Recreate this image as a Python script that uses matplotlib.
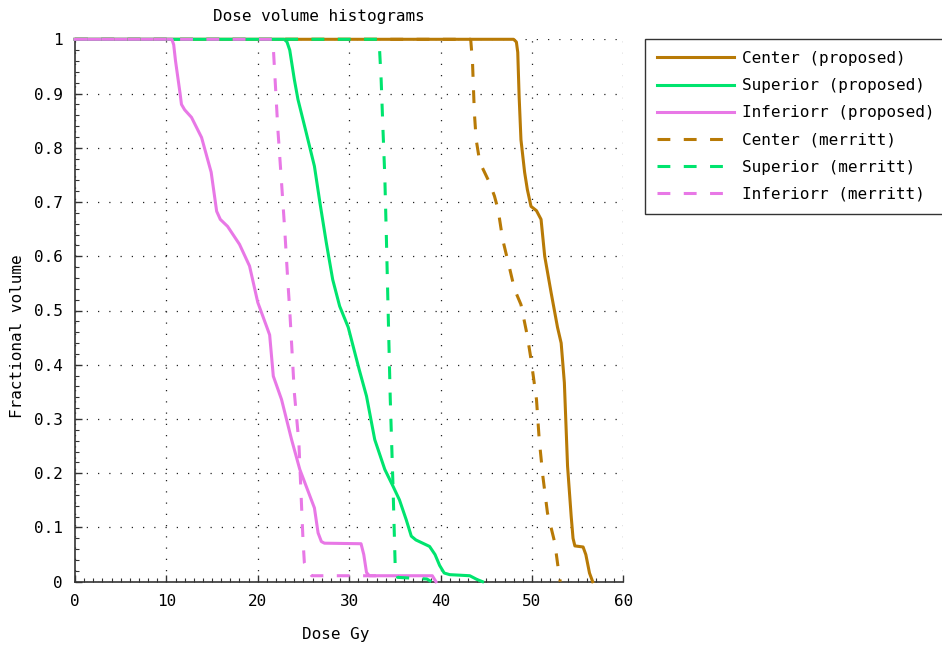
import matplotlib
matplotlib.use("Agg")
import matplotlib.pyplot as plt
from matplotlib.ticker import MultipleLocator

# ---------------- data ----------------
center_prop_x = [0, 48.0, 48.3, 48.45, 48.6, 48.8, 49.2, 49.5, 49.9, 50.2, 50.5, 51.0, 51.4, 52.1, 52.8, 53.2, 53.55, 53.9, 54.3, 54.5, 54.7, 55.6, 55.9, 56.3, 56.65]
center_prop_y = [1, 1, 0.995, 0.976, 0.895, 0.815, 0.755, 0.723, 0.692, 0.688, 0.684, 0.668, 0.600, 0.533, 0.469, 0.44, 0.367, 0.213, 0.12, 0.08, 0.066, 0.064, 0.05, 0.016, 0]

sup_prop_x = [0, 22.9, 23.2, 23.5, 24.0, 24.4, 25.3, 26.2, 26.8, 27.5, 28.2, 28.96, 29.9, 31.1, 31.9, 32.8, 33.9, 34.8, 35.5, 36.25, 36.8, 37.3, 38.8, 39.4, 39.9, 40.4, 41.0, 43.2, 44.0, 44.6]
sup_prop_y = [1, 1, 0.995, 0.98, 0.926, 0.889, 0.828, 0.766, 0.699, 0.625, 0.557, 0.508, 0.469, 0.391, 0.342, 0.262, 0.207, 0.176, 0.151, 0.114, 0.084, 0.077, 0.065, 0.05, 0.03, 0.016, 0.013, 0.011, 0.004, 0]

inf_prop_x = [0, 10.6, 10.8, 11.0, 11.5, 11.65, 12.0, 12.75, 13.85, 14.9, 15.5, 15.9, 16.7, 18.0, 19.1, 20.0, 21.0, 21.3, 21.7, 22.6, 23.7, 24.6, 26.2, 26.6, 26.96, 27.3, 31.3, 31.6, 31.9, 32.2, 39.1, 39.5]
inf_prop_y = [1, 1, 0.99, 0.96, 0.90, 0.88, 0.870, 0.856, 0.819, 0.755, 0.683, 0.668, 0.655, 0.622, 0.582, 0.515, 0.469, 0.455, 0.379, 0.336, 0.262, 0.207, 0.136, 0.09, 0.074, 0.071, 0.070, 0.05, 0.017, 0.011, 0.011, 0]

center_mer_x = [0, 43.3, 43.5, 43.7, 43.9, 44.3, 45.35, 45.9, 46.3, 46.8, 47.5, 48.1, 48.8, 49.5, 49.9, 50.5, 50.8, 51.2, 51.7, 52.5, 52.9, 53.1]
center_mer_y = [1, 1, 0.957, 0.865, 0.815, 0.773, 0.736, 0.711, 0.686, 0.631, 0.582, 0.539, 0.511, 0.453, 0.41, 0.336, 0.262, 0.194, 0.127, 0.072, 0.022, 0]

sup_mer_x = [0, 33.2, 33.3, 33.5, 33.7, 33.9, 34.07, 34.25, 34.5, 34.8, 35.05, 35.3, 38.5, 39.0]
sup_mer_y = [1, 1, 0.99, 0.926, 0.834, 0.748, 0.637, 0.51, 0.336, 0.176, 0.022, 0.008, 0.005, 0]

inf_mer_x = [0, 21.6, 21.7, 22.2, 22.6, 22.95, 23.3, 23.5, 24.0, 24.5, 24.7, 24.95, 25.1, 25.5, 25.9, 33.2, 33.6]
inf_mer_y = [1, 1, 0.985, 0.834, 0.736, 0.649, 0.551, 0.50, 0.349, 0.256, 0.176, 0.077, 0.035, 0.019, 0.011, 0.011, 0]

labels = ["Center (proposed)", "Superior (proposed)", "Inferiorr (proposed)",
          "Center (merritt)", "Superior (merritt)", "Inferiorr (merritt)"]
xticks = [0, 10, 20, 30, 40, 50, 60]
yticks = [0, 0.1, 0.2, 0.3, 0.4, 0.5, 0.6, 0.7, 0.8, 0.9, 1]
ytick_labels = ["0", "0.1", "0.2", "0.3", "0.4", "0.5", "0.6", "0.7", "0.8", "0.9", "1"]

# ---------------- style ----------------
plt.rcParams['font.family'] = ["DejaVu Sans Mono"]
fs = 11.5

c_brown = "#b87a06"
c_green = "#00e46e"
c_pink = "#e878e6"
lw = 2.2
dash = (0, (4.2, 4.4))

fig = plt.figure(figsize=(9.42, 6.45), dpi=100)
ax = fig.add_axes([75/942, 1 - 581.7/645, (623.3-75)/942, (581.7-39.3)/645])

series = [
    (center_prop_x, center_prop_y, c_brown, "-"),
    (sup_prop_x, sup_prop_y, c_green, "-"),
    (inf_prop_x, inf_prop_y, c_pink, "-"),
    (center_mer_x, center_mer_y, c_brown, dash),
    (sup_mer_x, sup_mer_y, c_green, dash),
    (inf_mer_x, inf_mer_y, c_pink, dash),
]
for (x, y, c, ls), lab in zip(series, labels):
    ax.plot(x, y, color=c, linestyle=ls, linewidth=lw, label=lab, clip_on=False,
            zorder=3, solid_joinstyle='round')

ax.set_xlim(0, 60)
ax.set_ylim(0, 1)
ax.set_xticks(xticks)
ax.set_yticks(yticks)
ax.set_yticklabels(ytick_labels)
ax.xaxis.set_minor_locator(MultipleLocator(1))
ax.yaxis.set_minor_locator(MultipleLocator(0.02))
ax.tick_params(which='both', direction='in', colors='#333333', labelcolor='black', labelsize=fs)
ax.tick_params(which='major', length=5, width=1)
ax.tick_params(which='minor', length=3, width=0.8)
ax.tick_params(axis='x', pad=9)
ax.tick_params(axis='y', pad=9)
for s in ['top', 'right']:
    ax.spines[s].set_visible(False)
for s in ['left', 'bottom']:
    ax.spines[s].set_color('#333333')
    ax.spines[s].set_linewidth(1.2)
ax.grid(True, which='major', color='#222222', linestyle=(0, (1, 8)), linewidth=0.9)
ax.set_axisbelow(True)

fig.text(319/942, 1 - 16/645, "Dose volume histograms", ha='center', va='center', fontsize=fs)
fig.text(336/942, 1 - 634/645, "Dose Gy", ha='center', va='center', fontsize=fs)
fig.text(18/942, 1 - 336/645, "Fractional volume", ha='center', va='center', rotation=90, fontsize=fs)

leg = fig.legend(loc='upper left', bbox_to_anchor=(645/942, 1 - 39/645), borderaxespad=0,
                 fontsize=fs, handlelength=4.8, handletextpad=0.5, labelspacing=0.76,
                 fancybox=False, frameon=True, borderpad=0.75)
leg.get_frame().set_edgecolor('black')
leg.get_frame().set_linewidth(1.0)

fig.savefig("out.png", dpi=100)
